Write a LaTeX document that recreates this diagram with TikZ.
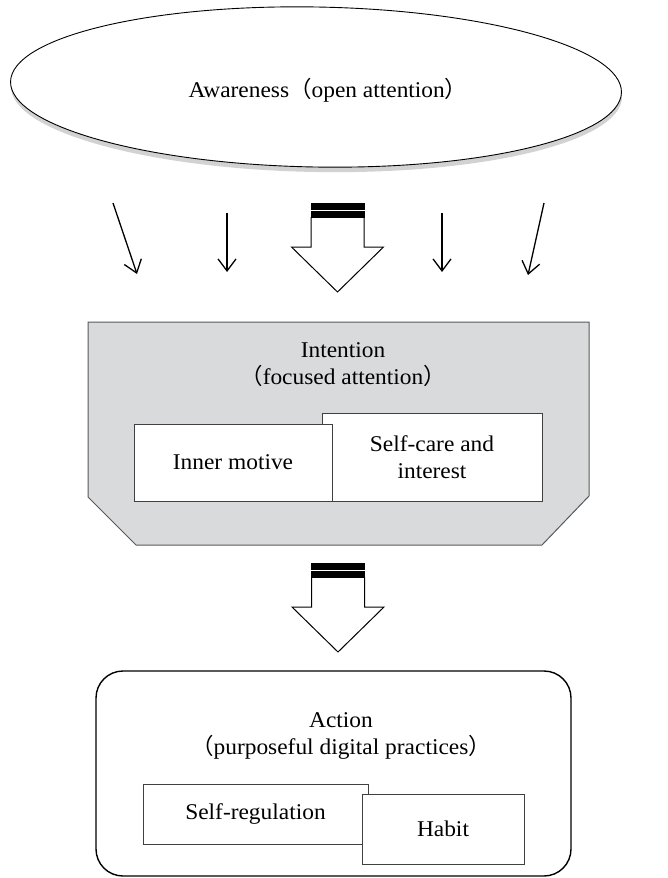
\documentclass[tikz,border=0pt]{standalone}
\usepackage{fontspec}
\setmainfont[FakeStretch=1.04]{Liberation Serif}
\newfontfamily\cjkfont{Noto Sans CJK SC}
\usetikzlibrary{arrows.meta,shapes.geometric}
\newcommand\fwl{{\cjkfont （}}
\newcommand\fwr{{\cjkfont ）}}
\definecolor{intgray}{HTML}{D9DADC}
\definecolor{shadowgray}{HTML}{D2D2D2}
\begin{document}
\begin{tikzpicture}[x=1pt,y=-1pt,
  font=\fontsize{22.5}{27}\selectfont,
  lbl/.style={inner sep=0pt, align=center},
  inbox/.style={draw=black!75, fill=white, line width=1pt, inner sep=0pt, align=center},
  thinarrow/.style={line width=1.3pt, -{Straight Barb[length=12pt,width=18pt,line width=1.3pt]}},
  blockarrow/.pic={
    \draw[fill=white, line width=1pt, line join=miter] (-26.5,14) -- (-26.5,44) -- (-46,44) -- (0,89) -- (46,44) -- (26.5,44) -- (26.5,14);
    \fill (-27,0) rectangle (27,14.5);
    \draw[white, line width=1.2pt] (-27,7.5) -- (27,7.5);
  }]
\useasboundingbox (0,0) rectangle (668,878);

% Awareness ellipse with shadow
\node[ellipse, fill=shadowgray, minimum width=611pt, minimum height=160pt, rotate=-1, inner sep=0pt] (awsh) at (316.5,92) {};
\node[ellipse, draw, fill=white, line width=0.9pt, minimum width=611pt, minimum height=160pt, rotate=-1, inner sep=0pt] (aw) at (316,87) {};
\node[lbl] (awt) at (328,90) {Awareness\fwl open attention\fwr};

% thin arrows
\coordinate (a1s) at (113,203); \coordinate (a1e) at (137,274);
\coordinate (a2s) at (227,213); \coordinate (a2e) at (227,272);
\coordinate (a4s) at (442,213); \coordinate (a4e) at (442,272);
\coordinate (a5s) at (544,203); \coordinate (a5e) at (528,275);
\draw[thinarrow] (a1s) -- (a1e);
\draw[thinarrow] (a2s) -- (a2e);
\draw[thinarrow] (a4s) -- (a4e);
\draw[thinarrow] (a5s) -- (a5e);

% big arrows
\pic at (337.5,203) {blockarrow};
\pic at (338,563) {blockarrow};

% Intention box
\draw[fill=intgray, draw=black!65, line width=1pt] (88,322) -- (589,322) -- (589,496) -- (542,545) -- (136,545) -- (88,497) -- cycle;
\node[lbl] (intt) at (343,365) {Intention\\\fwl focused attention\fwr};
\node[inbox, minimum width=220pt, minimum height=88pt] (sc) at (432,457) {Self-care and\\interest};
\node[inbox, minimum width=198pt, minimum height=77pt] (im) at (233,462.5) {Inner motive};

% Action box
\node[draw, line width=1.4pt, rounded corners=27pt, minimum width=475pt, minimum height=205pt, inner sep=0pt] (act) at (333.5,773.5) {};
\node[lbl] (actt) at (341,736) {Action\\\fwl purposeful digital practices\fwr};
\node[inbox, minimum width=225pt, minimum height=60pt] (sr) at (255.5,814) {Self-regulation};
\node[inbox, minimum width=162pt, minimum height=70pt] (hb) at (443,829) {Habit};
\end{tikzpicture}
\end{document}
